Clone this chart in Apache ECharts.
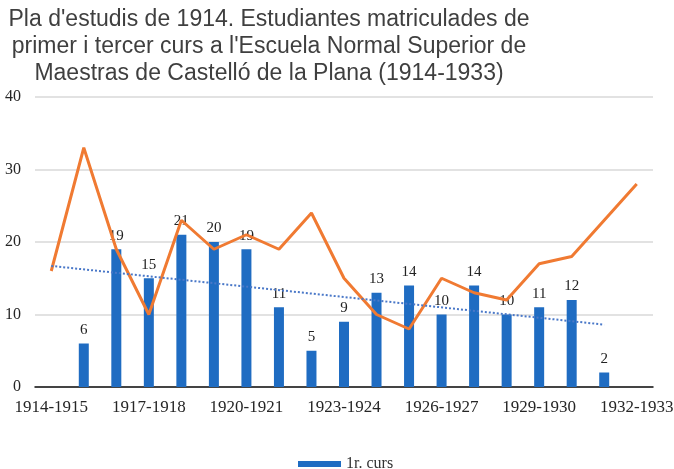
<!DOCTYPE html>
<html>
<head>
    <meta charset="UTF-8">
    <title>Estudiantes matriculades</title>
    <style>
        html, body {
            height: 100%;
            width: 100%;
            margin: 0;
            padding: 0;
            background: #fff;
        }
    </style>
    <script src="https://cdn.jsdelivr.net/npm/echarts@6/dist/echarts.min.js"></script>
</head>
<body>
<div id="main" style="width: 674px; height: 469px;"></div>
<script type="text/javascript">
    // cursos acadèmics
    var cursos = ['1914-1915', '1915-1916', '1916-1917', '1917-1918', '1918-1919',
        '1919-1920', '1920-1921', '1921-1922', '1922-1923', '1923-1924',
        '1924-1925', '1925-1926', '1926-1927', '1927-1928', '1928-1929',
        '1929-1930', '1930-1931', '1931-1932', '1932-1933'];
    // 1r. curs (barres)
    var primer = [null, 6, 19, 15, 21, 20, 19, 11, 5, 9, 13, 14, 10, 14, 10, 11, 12, 2, null];
    // 3r. curs (línia taronja)
    var tercer = [16, 33, 19, 10, 23, 19, 21, 19, 24, 15, 10, 8, 15, 13, 12, 17, 18, 23, 28];
    // tendència lineal (1r. curs), només extrems llegits del gràfic
    var tendencia = [16.7, null, null, null, null, null, null, null, null, null,
        null, null, null, null, null, null, null, 8.6, null];
    var yTicks = [0, 10, 20, 30, 40];

    var serif = "'Liberation Serif', 'DejaVu Serif', serif";
    var sans = "'Liberation Sans', Arial, sans-serif";

    var myChart = echarts.init(document.getElementById('main'));
    var option = {
        animation: false,
        title: {
            text: "Pla d'estudis de 1914. Estudiantes matriculades de\nprimer i tercer curs a l'Escuela Normal Superior de\nMaestras de Castelló de la Plana (1914-1933)",
            left: 264,
            top: 1,
            textAlign: 'center',
            textStyle: {
                fontFamily: sans,
                fontWeight: 'normal',
                fontSize: 23,
                lineHeight: 27,
                color: '#3f3f3f'
            }
        },
        legend: {
            data: ['1r. curs'],
            left: 293,
            top: 451,
            icon: 'rect',
            itemWidth: 43,
            itemHeight: 6,
            itemGap: 5,
            textStyle: {
                fontFamily: serif,
                fontSize: 16,
                color: '#333'
            }
        },
        grid: {
            left: 35,
            right: 21,
            top: 97,
            bottom: 82,
            containLabel: false,
            outerBoundsMode: 'none'
        },
        xAxis: {
            type: 'category',
            data: cursos,
            boundaryGap: true,
            axisLine: {
                show: true,
                lineStyle: {color: '#111', width: 1.5}
            },
            axisTick: {show: false},
            axisLabel: {
                interval: 2,
                margin: 12,
                fontFamily: serif,
                fontSize: 17,
                color: '#262626'
            }
        },
        yAxis: {
            type: 'value',
            min: yTicks[0],
            max: yTicks[yTicks.length - 1],
            interval: 10,
            axisLine: {show: false},
            axisTick: {show: false},
            splitLine: {
                lineStyle: {color: '#d9d9d9', width: 1.5}
            },
            axisLabel: {
                margin: 14,
                fontFamily: serif,
                fontSize: 16,
                color: '#262626'
            }
        },
        series: [{
            name: '1r. curs',
            type: 'bar',
            data: primer,
            barWidth: 10,
            itemStyle: {color: '#1f6cc2'},
            label: {
                show: true,
                position: 'top',
                distance: 6,
                fontFamily: serif,
                fontSize: 15,
                color: '#222'
            }
        }, {
            name: '3r. curs',
            type: 'line',
            data: tercer,
            showSymbol: false,
            symbol: 'none',
            lineStyle: {color: '#f07a32', width: 3}
        }, {
            name: 'Lineal (1r. curs)',
            type: 'line',
            data: tendencia,
            connectNulls: true,
            showSymbol: false,
            symbol: 'none',
            lineStyle: {color: '#4a78c8', width: 2, type: 'dotted'}
        }]
    };
    myChart.setOption(option);
</script>
</body>
</html>
